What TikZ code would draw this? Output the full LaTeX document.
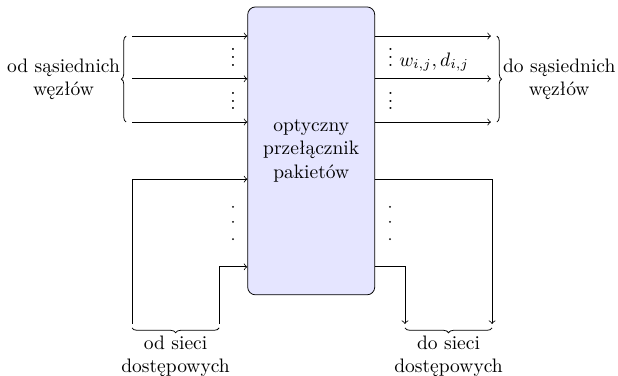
\documentclass[tikz,border=0pt]{standalone}
\usepackage{fontspec}
\usetikzlibrary{positioning,decorations.pathreplacing}

\begin{document}
\begin{tikzpicture}[
    sw/.style={draw, rounded corners=4pt, fill=blue!10, align=center,
               minimum width=2.29cm, minimum height=5.19cm, inner sep=0pt},
    arr/.style={->},
    brc/.style={decorate, decoration={brace}},
    lbl/.style={align=center, inner sep=1pt},
    vd/.style={anchor=base, inner sep=0pt},
    pt/.style={fill}]
  \useasboundingbox (0,0) rectangle (11.14,-6.76);

  % the switch
  \node[sw] (sw) at (5.61,-2.72) {optyczny\\przełącznik\\pakietów};

  % links from and to neighbour nodes
  \coordinate (in1) at (2.38,-0.65);
  \coordinate (in2) at (2.38,-1.42);
  \coordinate (in3) at (2.38,-2.20);
  \coordinate (out1) at (8.85,-0.65);
  \coordinate (out2) at (8.85,-1.42);
  \coordinate (out3) at (8.85,-2.20);
  \foreach \i in {1,2,3} {
    \draw[arr] (in\i) -- (in\i -| sw.west);
    \draw[arr] (out\i -| sw.east) -- (out\i);
  }
  \node[vd] (vl1) at (4.20,-1.19) {$\vdots$};
  \node[vd] (vl2) at (4.20,-1.98) {$\vdots$};
  \node[vd] (vr1) at (7.04,-1.19) {$\vdots$};
  \node[vd] (vr2) at (7.04,-1.98) {$\vdots$};
  \node[vd, anchor=base west] (wd) at (7.19,-1.19) {$w_{i,j}, d_{i,j}$};

  \draw[brc] ([xshift=-3pt]in3) -- ([xshift=-3pt]in1)
    node[midway, left=2pt, lbl] (nbl) {od sąsiednich\\węzłów};
  \draw[brc] ([xshift=3pt]out1) -- ([xshift=3pt]out3)
    node[midway, right=2pt, lbl] (nbr) {do sąsiednich\\węzłów};

  % access network links
  \coordinate (in4) at (2.38,-3.23);
  \coordinate (in5) at (3.95,-4.81);
  \coordinate (lo1) at (2.38,-5.84);
  \coordinate (lo2) at (3.95,-5.84);
  \coordinate (out4) at (8.87,-3.23);
  \coordinate (out5) at (7.30,-4.81);
  \coordinate (ro1) at (8.87,-5.84);
  \coordinate (ro2) at (7.30,-5.84);
  \draw[arr] (lo1) -- (in4) -- (in4 -| sw.west);
  \draw[arr] (lo2) -- (in5) -- (in5 -| sw.west);
  \draw[arr] (out4 -| sw.east) -- (out4) -- (ro1);
  \draw[arr] (out5 -| sw.east) -- (out5) -- (ro2);
  \foreach \y in {-3.73,-4.00,-4.31} {
    \fill[pt] (4.20,\y) circle (0.55pt);
    \fill[pt] (7.03,\y) circle (0.55pt);
  }

  \draw[brc] ([yshift=-2pt]lo2) -- ([yshift=-2pt]lo1)
    node[midway, below=3pt, lbl] (nbbl) {od sieci\\dostępowych};
  \draw[brc] ([yshift=-2pt]ro1) -- ([yshift=-2pt]ro2)
    node[midway, below=3pt, lbl] (nbbr) {do sieci\\dostępowych};
\end{tikzpicture}
\end{document}
